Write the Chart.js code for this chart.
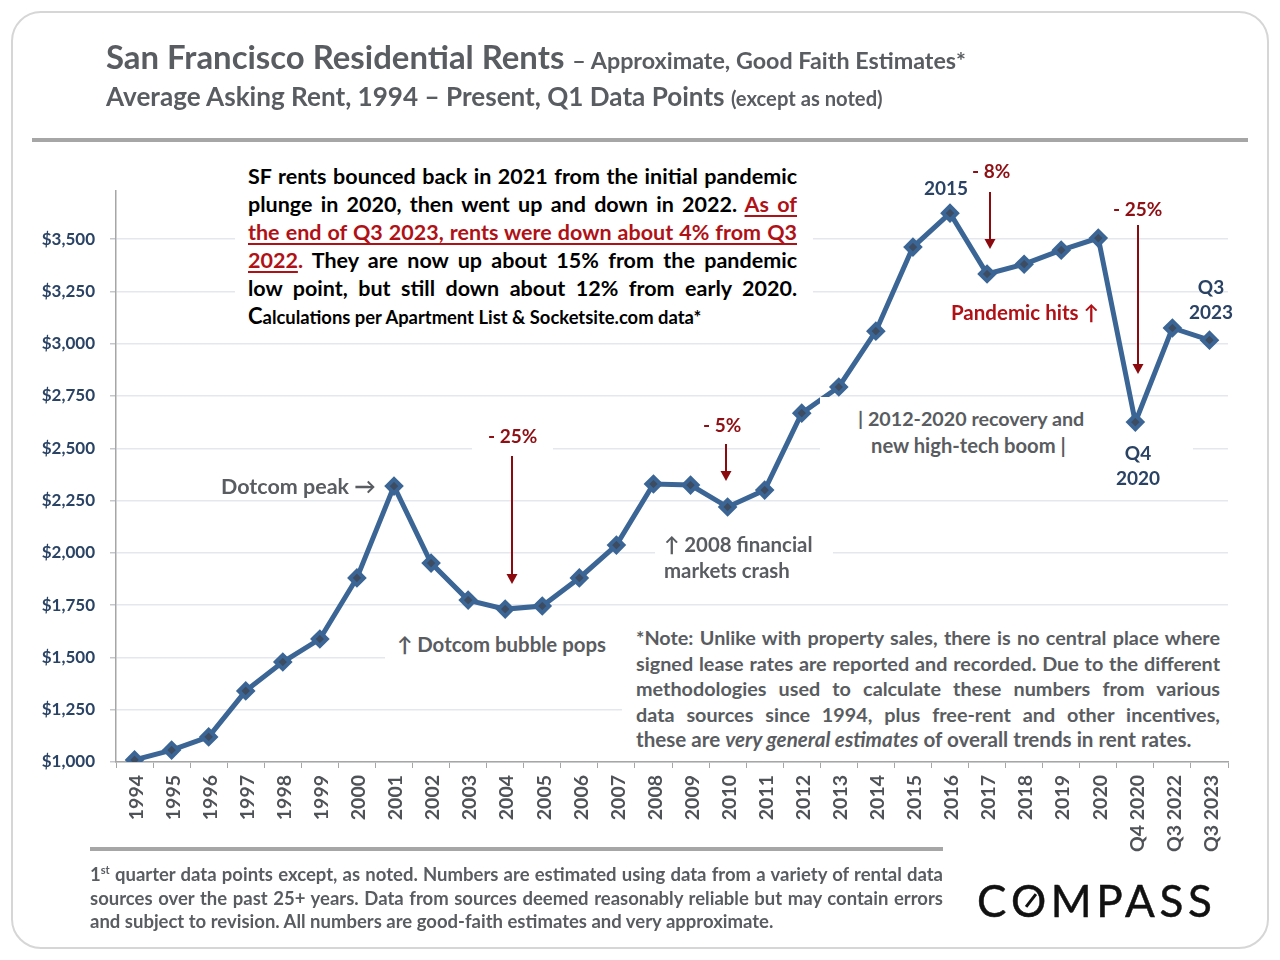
<!DOCTYPE html>
<html>
<head>
<meta charset="utf-8">
<title>San Francisco Residential Rents</title>
<script src="https://cdn.jsdelivr.net/npm/chart.js@4"></script>
<style>
html, body { margin: 0; padding: 0; background: #fff; }
#page { position: relative; width: 1280px; height: 960px; overflow: hidden; font-family: Lato, sans-serif; font-weight: 700; color: #595c60; }
#frame { position: absolute; left: 11px; top: 11px; width: 1254px; height: 934px; border: 2px solid #d6d6d6; border-radius: 30px; }
canvas { position: absolute; left: 0; top: 0; }
.t { position: absolute; white-space: nowrap; }
.box { position: absolute; background: #fff; }
.rule { position: absolute; height: 4px; background: #a6a6a6; }
.j { position: absolute; white-space: nowrap; text-align: justify; text-align-last: justify; }
.red { color: #b01116; }
.dred { color: #8e1014; }
.navy { color: #2a4365; }
.c { text-align: center; }
u { text-underline-offset: 3px; }
sup { font-size: 60%; line-height: 0; }
#logo { position: absolute; left: 977px; top: 872px; font-size: 44px; line-height: 56px; letter-spacing: 4.6px; font-weight: 400; color: #111; white-space: nowrap; -webkit-text-stroke: 0.5px #111; }
#logo span { position: relative; display: inline-block; }
#logo i { position: absolute; left: 12px; top: 27px; width: 16px; height: 3px; background: #111; transform: rotate(-52deg); }
</style>
</head>
<body>
<div id="page">
  <div id="frame"></div>
  <canvas id="rents" width="1280" height="960"></canvas>

  <div class="t" style="left:106px;top:36px;font-size:32.9px;line-height:42px">San Francisco Residential Rents <span style="font-size:23.3px">– Approximate, Good Faith Estimates*</span></div>
  <div class="t" style="left:106px;top:77px;font-size:26.1px;line-height:38px">Average Asking Rent, 1994 – Present, Q1 Data Points <span style="font-size:20.2px">(except as noted)</span></div>
  <div class="rule" style="left:32px;top:138px;width:1216px"></div>

  <!-- white boxes hide the gridlines behind the comments, same as the original -->
  <div class="box" style="left:235px;top:160px;width:578px;height:172px"></div>
  <div class="box" style="left:472px;top:423px;width:81px;height:28px"></div>
  <div class="box" style="left:820px;top:397px;width:280px;height:62px"></div>
  <div class="box" style="left:1100px;top:440px;width:93px;height:54px"></div>
  <div class="box" style="left:655px;top:532px;width:178px;height:52px"></div>
  <div class="box" style="left:385px;top:630px;width:240px;height:30px"></div>
  <div class="box" style="left:622px;top:625px;width:606px;height:130px"></div>

  <div style="color:#000;font-size:21.5px;line-height:28px">
    <div class="j" style="left:248px;top:162px;width:549px">SF rents bounced back in 2021 from the initial pandemic</div>
    <div class="j" style="left:248px;top:190px;width:549px">plunge in 2020, then went up and down in 2022. <u class="red">As of</u></div>
    <div class="j red" style="left:248px;top:218px;width:549px"><u>the end of Q3 2023, rents were down about 4% from Q3</u></div>
    <div class="j" style="left:248px;top:246px;width:549px"><u class="red">2022</u><span class="red">.</span> They are now up about 15% from the pandemic</div>
    <div class="j" style="left:248px;top:274px;width:549px">low point, but still down about 12% from early 2020.</div>
    <div class="t" style="left:248px;top:302px;font-size:18.4px"><span style="font-size:22px">C</span>alculations per Apartment List &amp; Socketsite.com data*</div>
  </div>

  <div class="t" style="left:221px;top:472px;font-size:21.5px;line-height:28px">Dotcom peak →</div>
  <div class="t" style="left:397px;top:630px;font-size:20.4px;line-height:28px">↑ Dotcom bubble pops</div>
  <div class="t" style="left:664px;top:531px;font-size:20.4px;line-height:26px">↑ 2008 financial<br>markets crash</div>
  <div class="t" style="left:858px;top:406px;font-size:19.7px;line-height:26px">| 2012-2020 recovery and<br><span style="margin-left:13px;font-size:20.2px">new high-tech boom |</span></div>

  <div class="t dred" style="left:488px;top:422px;font-size:19px;line-height:28px">- 25%</div>
  <div class="t dred" style="left:703px;top:411px;font-size:19px;line-height:28px">- 5%</div>
  <div class="t dred" style="left:972px;top:157px;font-size:19px;line-height:28px">- 8%</div>
  <div class="t dred" style="left:1113px;top:195px;font-size:19px;line-height:28px">- 25%</div>
  <div class="t red" style="left:951px;top:298px;font-size:20.5px;line-height:28px">Pandemic hits ↑</div>

  <div class="t navy" style="left:924px;top:174px;font-size:19px;line-height:28px">2015</div>
  <div class="t navy c" style="left:1171px;top:274px;width:80px;font-size:19px;line-height:25px">Q3<br>2023</div>
  <div class="t navy c" style="left:1098px;top:440px;width:80px;font-size:19px;line-height:25px">Q4<br>2020</div>

  <div style="font-size:19.8px;line-height:25.5px">
    <div class="j" style="left:636px;top:625px;width:584px">*Note: Unlike with property sales, there is no central place where</div>
    <div class="j" style="left:636px;top:651px;width:584px">signed lease rates are reported and recorded. Due to the different</div>
    <div class="j" style="left:636px;top:676px;width:584px">methodologies used to calculate these numbers from various</div>
    <div class="j" style="left:636px;top:702px;width:584px">data sources since 1994, plus free-rent and other incentives,</div>
    <div class="t" style="left:636px;top:727px;font-size:20.6px">these are <em>very general estimates</em> of overall trends in rent rates.</div>
  </div>

  <div class="rule" style="left:90px;top:847px;width:853px"></div>
  <div style="font-size:18.5px;line-height:24px">
    <div class="j" style="left:90px;top:862px;width:853px"><span>1<sup>st</sup></span> quarter data points except, as noted. Numbers are estimated using data from a variety of rental data</div>
    <div class="j" style="left:90px;top:886px;width:853px">sources over the past 25+ years. Data from sources deemed reasonably reliable but may contain errors</div>
    <div class="t" style="left:90px;top:909px">and subject to revision. All numbers are good-faith estimates and very approximate.</div>
  </div>

  <div id="logo">C<span>O<i></i></span>MPASS</div>
</div>

<script>
const years = ['1994','1995','1996','1997','1998','1999','2000','2001','2002','2003',
  '2004','2005','2006','2007','2008','2009','2010','2011','2012','2013',
  '2014','2015','2016','2017','2018','2019','2020','Q4 2020','Q3 2022','Q3 2023'];

const rents = [1010,1057,1120,1340,1478,1588,1880,2319,1951,1774,
  1731,1746,1880,2037,2329,2324,2219,2300,2668,2793,
  3060,3462,3624,3333,3380,3447,3505,2625,3075,3017];

const rentTicks = [1000,1250,1500,1750,2000,2250,2500,2750,3000,3250,3500];

// drop arrows for the percent comments: [x, y from, y to]
const arrows = [
  [512, 456, 584],
  [726, 444, 481],
  [990, 192, 249],
  [1138, 225, 374]
];

const arrowPlugin = {
  id: 'arrows',
  afterDatasetsDraw(chart) {
    const ctx = chart.ctx;
    ctx.save();
    ctx.strokeStyle = '#8b0a0e';
    ctx.fillStyle = '#8b0a0e';
    ctx.lineWidth = 2;
    arrows.forEach(function(a) {
      ctx.beginPath();
      ctx.moveTo(a[0], a[1]);
      ctx.lineTo(a[0], a[2] - 8);
      ctx.stroke();
      ctx.beginPath();
      ctx.moveTo(a[0] - 5.5, a[2] - 10);
      ctx.lineTo(a[0] + 5.5, a[2] - 10);
      ctx.lineTo(a[0], a[2]);
      ctx.closePath();
      ctx.fill();
    });
    ctx.restore();
  }
};

new Chart(document.getElementById('rents').getContext('2d'), {
  type: 'line',
  data: {
    labels: years,
    datasets: [{
      label: 'Average asking rent',
      data: rents,
      borderColor: '#3a6595',
      borderWidth: 5,
      tension: 0,
      pointStyle: 'rectRot',
      pointRadius: 7,
      pointBorderWidth: 4,
      pointBorderColor: '#3a6595',
      pointBackgroundColor: '#3d4c60'
    }]
  },
  options: {
    responsive: false,
    animation: false,
    layout: { padding: { top: 191, left: 0, right: 52, bottom: 0 } },
    plugins: { legend: { display: false }, tooltip: { enabled: false } },
    scales: {
      x: {
        offset: true,
        afterFit: function(s) { s.height = 198; },
        border: { color: '#a6a6a6', width: 1.5 },
        grid: { offset: true, drawOnChartArea: false, drawTicks: true, tickLength: 6, tickColor: '#a6a6a6' },
        ticks: {
          autoSkip: false,
          minRotation: 90,
          maxRotation: 90,
          padding: 7,
          labelOffset: 2,
          color: '#4f5256',
          font: { family: 'Lato', size: 19.5, weight: '700' }
        }
      },
      y: {
        min: 1000,
        max: 3730,
        afterFit: function(s) { s.width = 116; },
        afterBuildTicks: function(s) { s.ticks = rentTicks.map(function(v) { return { value: v }; }); },
        border: { color: '#a6a6a6', width: 1.5 },
        grid: { color: '#e4e8ee', lineWidth: 1.5, tickLength: 6, tickColor: '#c4c8cc' },
        ticks: {
          padding: 15,
          color: '#2a4365',
          font: { family: 'Lato', size: 17, weight: '700' },
          callback: function(v) { return '$' + v.toLocaleString('en-US'); }
        }
      }
    }
  },
  plugins: [arrowPlugin]
});
</script>
</body>
</html>
